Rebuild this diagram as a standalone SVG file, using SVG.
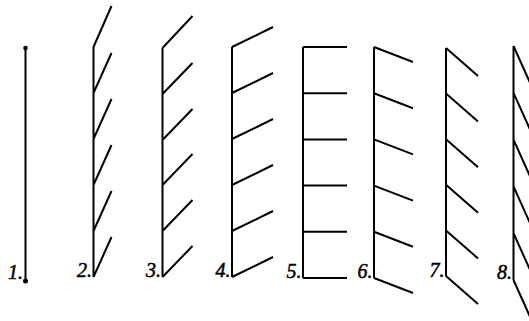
<svg xmlns="http://www.w3.org/2000/svg" width="529" height="321" viewBox="0 0 529 321">
<style>
.l{stroke:#000;stroke-width:2;fill:none;stroke-linecap:butt}
.t{font-family:"Liberation Serif","Times New Roman",serif;font-style:italic;font-size:20px;fill:#000;stroke:#000;stroke-width:0.5;text-anchor:end}
</style>
<rect width="529" height="321" fill="#fff"/>
<g id="fig1">
<line class="l" x1="25.5" y1="48" x2="25.5" y2="281"/>
<circle cx="25.5" cy="48" r="2.3"/>
<circle cx="25.5" cy="281" r="2.5"/>
<text class="t" x="23" y="279">1.</text>
</g>
<g id="fig2">
<path class="l" d="M93.5 277V47 M93.5 47l18 -41 M93.5 93l18 -40 M93.5 139l18 -40 M93.5 185l18 -40 M93.5 231l18 -40 M93.5 277l18 -40"/>
<text class="t" x="92" y="277">2.</text>
</g>
<g id="fig3">
<path class="l" d="M162.5 277V48 M162.5 48l30 -32 M162.5 94l30 -31 M162.5 140l30 -31 M162.5 185l30 -31 M162.5 231l30 -31 M162.5 277l30 -31"/>
<text class="t" x="161" y="277">3.</text>
</g>
<g id="fig4">
<path class="l" d="M232 277V47 M232 47l41 -20 M232 93l41 -20 M232 139l41 -20 M232 185l41 -20 M232 231l41 -20 M232 277l41 -20"/>
<text class="t" x="230.5" y="277">4.</text>
</g>
<g id="fig5">
<path class="l" d="M303 278V47 M303 47h44 M303 93.2h44 M303 139.4h44 M303 185.6h44 M303 231.8h44 M303 278h44"/>
<text class="t" x="301.5" y="278">5.</text>
</g>
<g id="fig6">
<path class="l" d="M374 278V47 M374 47l39 15 M374 93.2l39 15 M374 139.4l39 15 M374 185.6l39 15 M374 231.8l39 15 M374 278l39 15"/>
<text class="t" x="372.5" y="278">6.</text>
</g>
<g id="fig7">
<path class="l" d="M446 276V48 M446 48l32 28 M446 93.6l32 28 M446 139.2l32 28 M446 184.8l32 28 M446 230.4l32 28 M446 276l32 28"/>
<text class="t" x="444.5" y="277">7.</text>
</g>
<g id="fig8">
<path class="l" d="M513.5 280V46 M513.5 46l18 40 M513.5 92.8l18 40 M513.5 139.6l18 40 M513.5 186.4l18 40 M513.5 233.2l18 40 M513.5 280l18 40"/>
<text class="t" x="512" y="279">8.</text>
</g>
</svg>
